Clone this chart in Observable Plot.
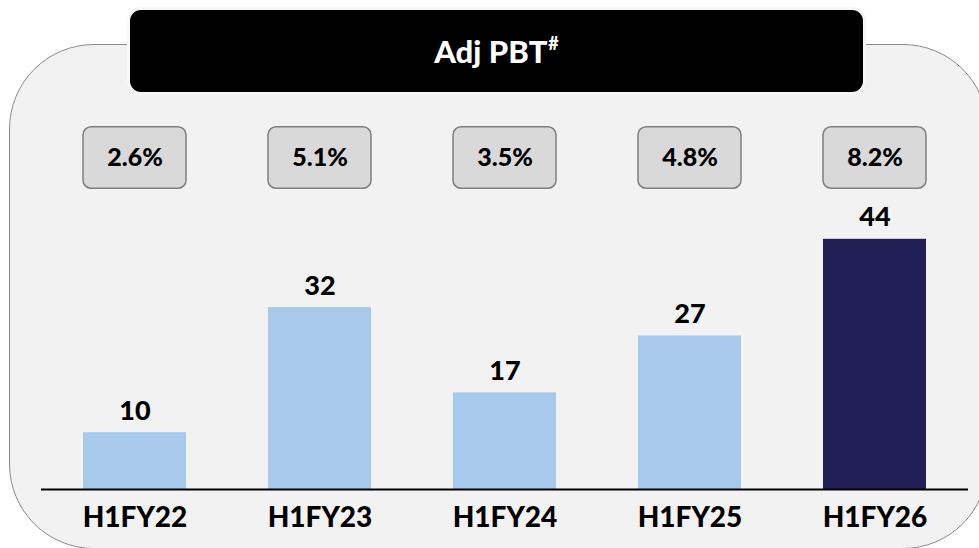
<!DOCTYPE html>
<html><head><meta charset="utf-8">
<script src="https://cdn.jsdelivr.net/npm/d3@7"></script>
<script src="https://cdn.jsdelivr.net/npm/@observablehq/plot@0.6"></script>
<style>
html,body{margin:0;padding:0;background:#fff;overflow:hidden;}
#wrap{position:relative;width:979px;height:548px;overflow:hidden;font-family:Lato,sans-serif;}
#panel{position:absolute;left:9px;top:44px;width:979px;height:505px;border:1.5px solid #8a8a8a;border-radius:85px;background:#f2f2f2;box-sizing:border-box;}
#title{position:absolute;left:130px;top:10px;width:733px;height:82px;background:#000;border-radius:11px;box-shadow:0 0 0 3px #f7f7f7;color:#fff;font-weight:900;font-size:31px;display:flex;align-items:center;justify-content:center;}
#title sup{font-size:18px;position:relative;top:-2px;margin-left:1px;}
#chart{position:absolute;left:0;top:0;}
#chart text{font-family:Lato,sans-serif;}
</style></head>
<body>
<div id="wrap">
  <div id="panel"></div>
  <div id="title"><span>Adj PBT<sup>#</sup></span></div>
  <div id="chart"></div>
</div>
<script>
const periods = ["H1FY22", "H1FY23", "H1FY24", "H1FY25", "H1FY26"];
const pbt = [10, 32, 17, 27, 44];
const marginLabels = ["2.6%", "5.1%", "3.5%", "4.8%", "8.2%"];

const rows = periods.map((p, i) => ({
  period: p,
  value: pbt[i],
  margin: marginLabels[i],
  current: i === periods.length - 1
}));

const boxLo = 52.9, boxHi = 63.7;

const chart = Plot.plot({
  width: 979,
  height: 548,
  marginLeft: 41,
  marginRight: 11,
  marginTop: 0,
  marginBottom: 59,
  x: {domain: periods, paddingInner: 0.445, paddingOuter: 0.2225},
  y: {domain: [0, 86], axis: null},
  style: {background: "none", fontFamily: "Lato, sans-serif", color: "#000"},
  marks: [
    Plot.barY(rows, {x: "period", y: "value", fill: d => d.current ? "#221f56" : "#a7c9ec"}),
    Plot.ruleY([0], {stroke: "#000", strokeWidth: 2}),
    Plot.text(rows, {x: "period", y: "value", text: d => String(d.value), dy: -13, lineAnchor: "bottom", fontSize: 27, fontWeight: 900, fill: "#000"}),
    Plot.barY(rows, {x: "period", y1: boxLo, y2: boxHi, rx: 8, fill: "#d9d9d9", stroke: "#7f7f7f", strokeWidth: 1.5}),
    Plot.text(rows, {x: "period", y: (boxLo + boxHi) / 2, text: "margin", lineAnchor: "middle", fontSize: 25, fontWeight: 900, fill: "#000"}),
    Plot.axisX({tickSize: 0, tickPadding: 18, fontSize: 28, fontWeight: 900, label: null, color: "#000"})
  ]
});
document.getElementById("chart").appendChild(chart);
</script>
</body></html>
